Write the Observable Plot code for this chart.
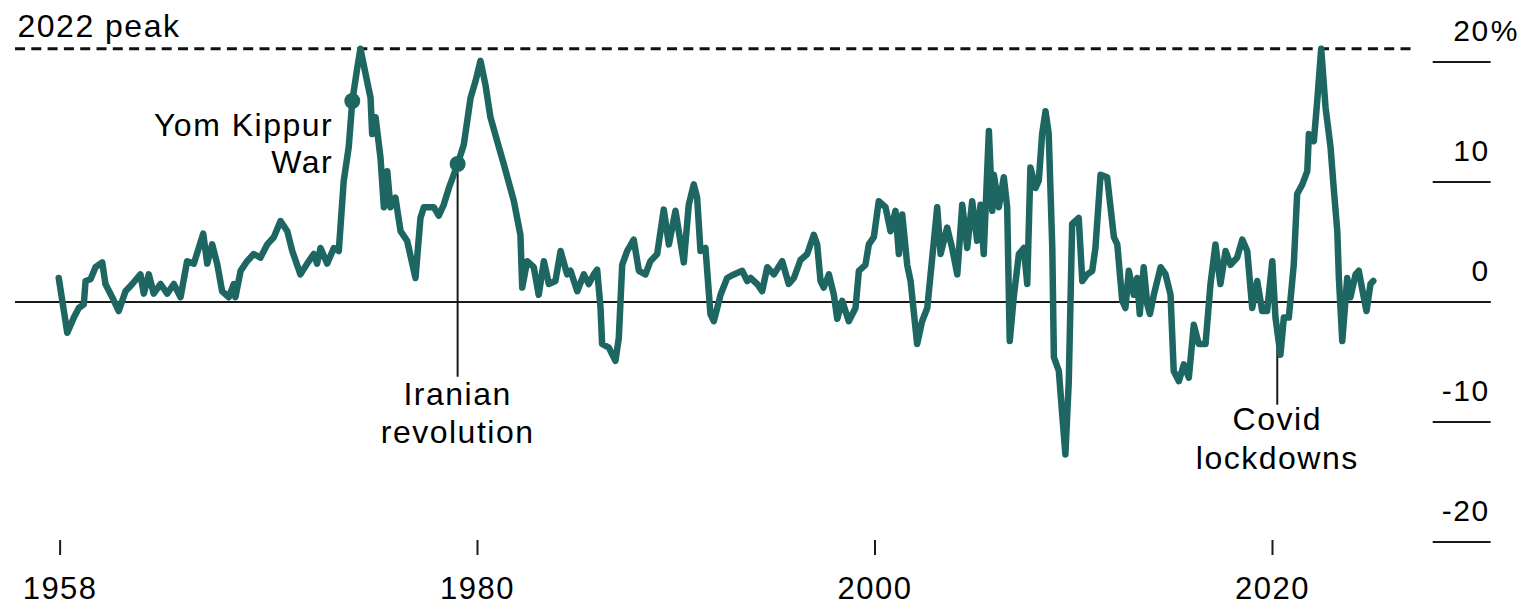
<!DOCTYPE html>
<html><head><meta charset="utf-8">
<script src="https://cdn.jsdelivr.net/npm/d3@7"></script>
<script src="https://cdn.jsdelivr.net/npm/@observablehq/plot@0.6"></script>
<style>
html,body{margin:0;padding:0;background:#fff;overflow:hidden;}
#chart svg{display:block;}
#chart svg text{letter-spacing:1.5px;}
</style>
</head><body><div id="chart"></div>
<script>
// Decimal year of each reading
const years = [
1958.93,1959.36,1959.69,1959.94,1960.19,1960.28,1960.53,1960.78,1961.12,1961.28,1961.62,1961.95,1962.29,1962.63,1963.04,1963.21,1963.46,1963.71,1964.05,1964.39,1964.72,1965.06,1965.39,1965.73,1966.20,1966.40,1966.65,1966.90,1967.15,1967.49,1967.74,1967.82,1968.08,1968.41,1968.74,1969.08,1969.42,1969.75,1970.09,1970.43,1970.68,1971.09,1971.43,
1971.76,1971.93,1972.10,1972.44,1972.77,1973.02,1973.27,1973.52,1973.70,1973.95,1974.11,1974.37,1974.62,1974.70,1974.87,1975.12,1975.29,1975.46,1975.62,1975.87,1976.13,1976.46,1976.88,1977.13,1977.30,1977.80,1978.05,1978.30,1978.56,1979.00,1979.31,1979.65,1979.90,1980.15,1980.40,1980.65,1980.99,1981.32,1981.83,1982.16,1982.25,1982.50,1982.83,1983.08,1983.34,1983.59,1983.92,1984.18,1984.51,
1984.68,1985.02,1985.35,1985.60,1985.85,1986.02,1986.19,1986.27,1986.61,1986.94,1987.11,1987.28,1987.53,1987.86,1988.12,1988.45,1988.70,1989.04,1989.37,1989.63,1989.96,1990.38,1990.63,1990.88,1991.05,1991.22,1991.47,1991.72,1991.89,1992.23,1992.56,1992.90,1993.32,1993.57,1993.74,1994.07,1994.32,1994.58,1994.91,1995.33,1995.66,1995.92,1996.25,1996.59,1996.92,1997.09,1997.26,
1997.42,1997.68,1997.93,1998.10,1998.35,1998.68,1999.02,1999.19,1999.52,1999.69,1999.94,2000.19,2000.53,2000.78,2001.03,2001.20,2001.37,2001.62,2001.79,2002.12,2002.37,2002.63,2002.88,2003.13,2003.30,2003.63,2003.88,2004.14,2004.39,2004.64,2004.89,2005.14,2005.31,2005.47,2005.73,2005.90,2005.98,2006.23,2006.48,2006.65,2006.78,2006.98,2007.24,2007.49,2007.66,2007.82,2008.08,2008.24,2008.41,2008.58,2008.74,2008.92,2009.00,2009.25,2009.42,2009.58,2009.75,2009.92,2010.25,2010.43,
2010.68,2010.93,2011.09,2011.35,2011.68,2012.02,2012.19,2012.44,2012.60,2012.77,2013.02,2013.19,2013.32,2013.52,2013.70,2013.83,2014.03,2014.37,2014.62,2014.87,2015.03,2015.29,2015.54,2015.79,2016.04,2016.29,2016.63,2016.88,2017.13,2017.38,2017.64,2017.89,2018.22,2018.48,2018.73,2018.98,2019.23,2019.48,2019.73,2019.99,2020.15,2020.40,2020.57,2020.82,2021.07,2021.24,2021.50,2021.75,2021.83,2022.08,2022.25,2022.45,2022.67,2022.92,2023.08,2023.26,2023.34,2023.51,2023.76,2023.92,2024.18,2024.34,2024.59,2024.73,2024.93,2025.07
];
// Percent change
const values = [
2.0,-2.56,-1.3,-0.5,-0.2,1.75,1.9,2.9,3.3,1.5,0.4,-0.75,0.9,1.5,2.3,0.7,2.3,0.7,1.5,0.7,1.5,0.4,3.4,3.2,5.7,3.2,4.8,3.2,0.9,0.4,1.5,0.4,2.6,3.4,4.0,3.7,4.8,5.4,6.75,5.9,4.25,2.3,3.2,
4.0,3.2,4.5,3.2,4.5,4.25,10.1,12.9,16.75,19.5,21.1,19.0,17.0,14.0,15.4,12.0,7.9,10.9,7.9,8.7,5.9,5.1,2.0,7.0,7.9,7.9,7.2,8.1,9.5,11.5,13.1,17.0,18.4,20.1,18.1,15.4,13.4,11.5,8.4,5.6,1.2,3.4,2.9,0.6,3.4,1.5,1.75,4.25,2.3,
2.6,0.9,2.3,1.5,2.3,2.7,-0.5,-3.5,-3.8,-4.9,-3.0,3.1,4.25,5.2,2.6,2.3,3.4,4.0,7.7,4.8,7.6,3.3,8.1,9.8,8.7,4.25,4.5,-1.0,-1.6,0.6,2.0,2.3,2.6,1.75,2.0,1.5,0.9,2.9,2.3,3.4,1.5,2.0,3.5,4.0,5.6,4.8,1.75,
1.2,2.3,0.6,-1.4,0.1,-1.6,-0.5,2.6,3.1,4.8,5.4,8.4,7.9,5.9,7.6,4.0,7.3,3.1,1.75,-3.5,-1.6,-0.5,3.7,7.9,4.0,6.2,4.5,2.3,8.1,4.5,8.4,5.1,8.1,4.0,14.25,7.6,10.6,7.9,10.4,7.9,-3.25,0.4,4.0,4.5,1.5,11.2,9.5,10.1,14.0,15.9,14.0,4.5,-4.6,-5.75,-9.4,-12.7,-6.6,6.5,7.0,1.75,
2.3,2.6,4.5,10.6,10.4,5.4,4.8,0.1,-0.5,2.6,0.6,2.0,-1.0,2.9,-0.2,-1.0,0.6,2.9,2.3,0.6,-5.75,-6.6,-5.2,-6.3,-1.9,-3.5,-3.5,1.5,4.8,1.5,4.25,3.1,3.7,5.2,4.25,-0.5,1.75,-0.75,-0.75,3.4,-1.3,-4.4,-1.3,-1.3,3.1,9.0,9.8,10.9,14.0,13.4,16.75,21.1,16.2,12.9,9.5,5.9,2.0,-3.25,2.0,0.4,2.3,2.6,0.4,-0.75,1.5,1.75
];

const yTicks = [20, 10, 0, -10, -20];
const yTickLabels = ["20", "10", "0", "-10", "-20"];
const yUnit = "%";
const xTickYears = [1959, 1980, 2000, 2020];
const xTickLabels = ["1958", "1980", "2000", "2020"];
const peakLabel = "2022 peak";
const peakValue = 21.1;
const eventNames = ["Yom Kippur\nWar", "Iranian\nrevolution", "Covid\nlockdowns"];
const eventYears = [1973.70, 1979.00, 2020.24];

const data = years.map((year, i) => ({year, value: values[i]}));
const dotData = data.filter(d => d.year === eventYears[0] || d.year === eventYears[1]);

const FONT = "'Liberation Sans', Arial, Helvetica, sans-serif";
const INK = "#1a1a1a";
const TEAL = "#1e6661";

const W = 1527, H = 606;
const pxPerYear = 19.875;
const x0 = 1956;
const pxPerUnit = 12;
const zeroPx = 301.5;

const chart = Plot.plot({
  width: W, height: H,
  marginTop: 0, marginBottom: 0, marginLeft: 0, marginRight: 0,
  x: {type: "linear", domain: [x0, x0 + W / pxPerYear], axis: null},
  y: {type: "linear", domain: [(zeroPx - H) / pxPerUnit, zeroPx / pxPerUnit], axis: null},
  style: {fontFamily: FONT, background: "white"},
  marks: [
    Plot.ruleY([0], {x1: 1956.755, x2: 2031.0, stroke: INK, strokeWidth: 2}),
    Plot.ruleY(yTicks, {x1: 2028.085, x2: 2031.0, stroke: INK, strokeWidth: 2}),
    Plot.ruleY([peakValue], {x1: 1956.755, x2: 2027.094, stroke: "#111", strokeWidth: 3, strokeDasharray: "10,6.3"}),
    Plot.ruleX(xTickYears, {y1: -19.875, y2: -21.125, stroke: INK, strokeWidth: 2}),
    Plot.ruleX([eventYears[1]], {y1: 11.5, y2: -6.27, stroke: INK, strokeWidth: 2}),
    Plot.ruleX([eventYears[2]], {y1: -1.3, y2: -8.6, stroke: INK, strokeWidth: 2}),
    Plot.line(data, {x: "year", y: "value", stroke: TEAL, strokeWidth: 6.5, strokeLinejoin: "round", strokeLinecap: "round"}),
    Plot.dot(dotData, {x: "year", y: "value", r: 8, fill: TEAL, stroke: "none"}),
    Plot.text([peakLabel], {x: 1956.855, y: 22.125, text: d => d, textAnchor: "start", lineAnchor: "bottom", fontSize: 32, fill: "#000", fontFamily: FONT}),
    Plot.text([eventNames[0]], {x: 1972.74, y: 10.71, text: d => d, textAnchor: "end", lineAnchor: "bottom", lineHeight: 1.16, fontSize: 32, fill: "#000", fontFamily: FONT}),
    Plot.text([eventNames[1]], {x: eventYears[1], y: -11.79, text: d => d, textAnchor: "middle", lineAnchor: "bottom", lineHeight: 1.19, fontSize: 32, fill: "#000", fontFamily: FONT}),
    Plot.text([eventNames[2]], {x: eventYears[2], y: -13.875, text: d => d, textAnchor: "middle", lineAnchor: "bottom", lineHeight: 1.19, fontSize: 32, fill: "#000", fontFamily: FONT}),
    Plot.text(yTicks, {x: 2030.93, y: d => d, text: (d, i) => yTickLabels[i], textAnchor: "end", lineAnchor: "bottom", dy: -21, fontSize: 30, fill: "#000", fontFamily: FONT}),
    Plot.text([yTicks[0]], {x: 2030.93, y: d => d, text: () => yUnit, textAnchor: "start", lineAnchor: "bottom", dy: -21, dx: 1, fontSize: 30, fill: "#000", fontFamily: FONT}),
    Plot.text(xTickYears, {x: d => d, y: -24.71, text: (d, i) => xTickLabels[i], textAnchor: "middle", lineAnchor: "bottom", fontSize: 31, fill: "#000", fontFamily: FONT})
  ]
});
document.getElementById("chart").appendChild(chart);
</script>
</body></html>
